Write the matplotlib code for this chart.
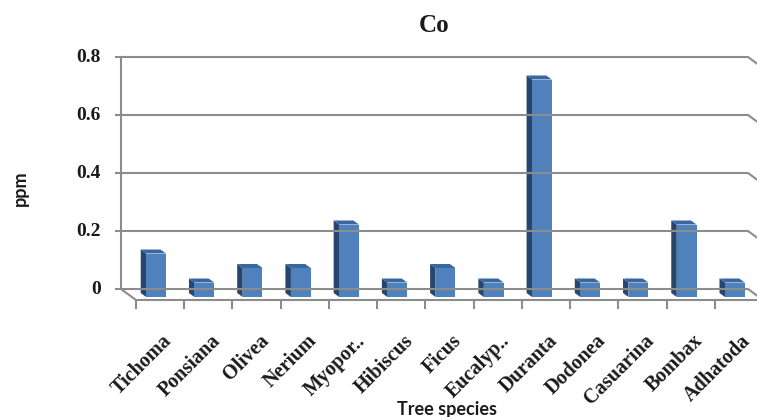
import numpy as np
import matplotlib
matplotlib.use("Agg")
import matplotlib.pyplot as plt
from matplotlib.patches import Polygon

species = ['Tichoma', 'Ponsiana', 'Olivea', 'Nerium', 'Myopor..', 'Hibiscus', 'Ficus',
           'Eucalyp..', 'Duranta', 'Dodonea', 'Casuarina', 'Bombax', 'Adhatoda']
co_ppm = [0.15, 0.05, 0.10, 0.10, 0.25, 0.05, 0.10, 0.05, 0.75, 0.05, 0.05, 0.25, 0.05]
yticks = [0, 0.2, 0.4, 0.6, 0.8]
ytick_labels = ['0', '0.2', '0.4', '0.6', '0.8']

W, H = 757, 417
fig = plt.figure(figsize=(W / 100, H / 100), dpi=100)
# back wall of the 3-D plot area, in pixels: x 121..748, y 57..289
ax = fig.add_axes([121 / W, (H - 289) / H, 627 / W, 232 / H])
n = len(species)
ax.set_xlim(0, n)
ax.set_ylim(0, 0.8)
ax.axis('off')

# pixel -> data unit
sx = n / 627
sy = 0.8 / 232

grid_c = '#8c8c8c'
text_c = '#1a1a1a'
serif = dict(family='Liberation Serif', weight='bold')

# gridlines on back wall with the bend onto the side wall
for v, lab in zip(yticks, ytick_labels):
    ax.plot([-6 * sx, n, n + 15 * sx], [v, v, v - 11 * sy], color=grid_c, lw=1.5,
            clip_on=False, solid_capstyle='butt')
    ax.text(-20 * sx, v, lab, ha='right', va='center', fontsize=14, color=text_c, **serif)

# y axis line and floor
ax.plot([0, 0], [0, 0.8], color=grid_c, lw=1.5, clip_on=False)
ax.plot([0, 15 * sx, n + 15 * sx], [0, -11 * sy, -11 * sy], color=grid_c, lw=1.5, clip_on=False)
for k in range(n + 1):
    ax.plot([k + 15 * sx] * 2, [-11 * sy, -19 * sy], color=grid_c, lw=1.5, clip_on=False)

# columns: front face offset and back face offset in pixels
w = 0.41
fx, fy = 11 * sx, -8 * sy
bx, by = 5.5 * sx, -4 * sy
lefts = np.arange(n) + (1 - w) / 2
for x0, v in zip(lefts, co_ppm):
    side = Polygon([(x0 + fx, fy), (x0 + fx, fy + v), (x0 + bx, by + v), (x0 + bx, by)],
                   closed=True, facecolor='#27466e', edgecolor='none', clip_on=False)
    top = Polygon([(x0 + fx, fy + v), (x0 + fx + w, fy + v), (x0 + bx + w, by + v), (x0 + bx, by + v)],
                  closed=True, facecolor='#3a67a2', edgecolor='none', clip_on=False)
    ax.add_patch(side)
    ax.add_patch(top)
ax.bar(lefts + fx, co_ppm, width=w, bottom=fy, align='edge', color='#4f81bd',
       edgecolor='none', clip_on=False)

# rotated category labels
for k, name in enumerate(species):
    ax.text(k + 0.5 + 17 * sx, -42 * sy, name, rotation=45, rotation_mode='anchor',
            ha='right', va='top', fontsize=14.5, color=text_c, **serif)

fig.text(434 / W, 1 - 26 / H, 'Co', ha='center', va='center', fontsize=18, color=text_c, **serif)
fig.text(20 / W, 1 - 188 / H, 'ppm', rotation=90, ha='center', va='center', fontsize=13,
         family='Lato', weight='bold', color=text_c)
fig.text(447 / W, 1 - 409 / H, 'Tree species', ha='center', va='center', fontsize=13,
         family='Lato', weight='bold', color=text_c)

fig.savefig('out.png', dpi=100, facecolor='white')
